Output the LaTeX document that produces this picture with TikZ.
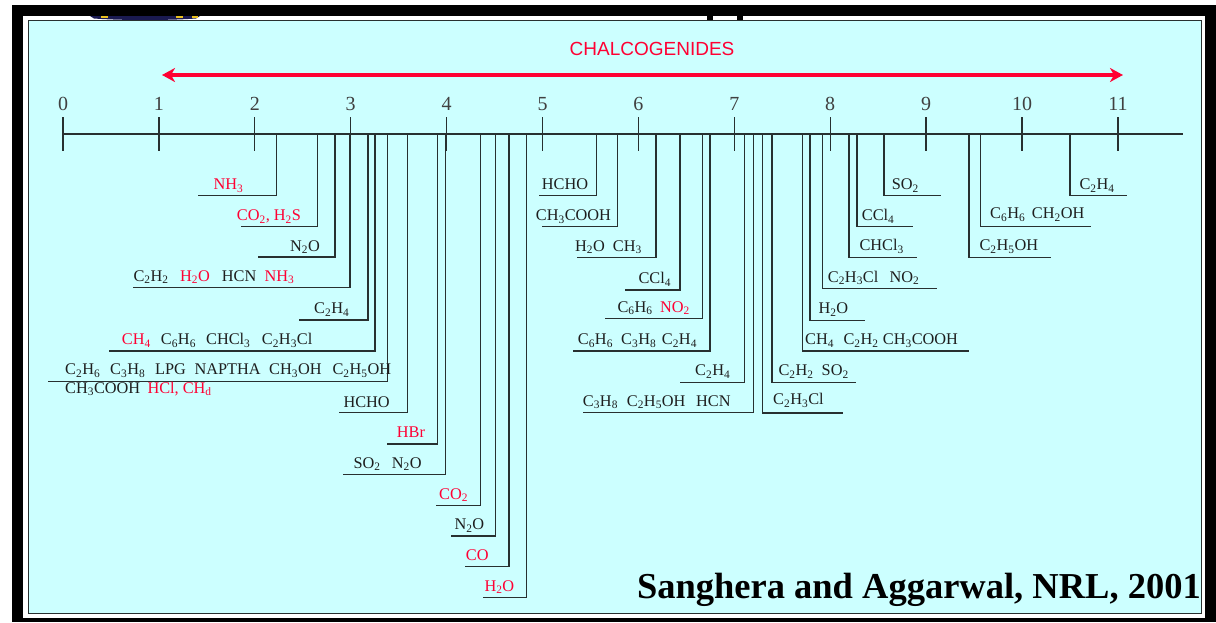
\documentclass[tikz,border=0pt]{standalone}
\usepackage{fontspec}
\setmainfont{Liberation Serif}
\newfontfamily\capsans{Liberation Sans}
\usetikzlibrary{arrows.meta}
\definecolor{panel}{HTML}{CCFFFF}
\definecolor{hot}{HTML}{FF0033}
\definecolor{ink}{HTML}{1E1E1E}
\definecolor{rule}{HTML}{283030}
\definecolor{navy}{HTML}{1A1A50}
\definecolor{gold}{HTML}{E8C020}
% chemical subscript
\newcommand\ix[1]{\textsubscript{#1}}
% bracket: name, x on the axis, bottom y, far end x of the foot
\newcommand\gasbar[4]{%
  \coordinate (#1t) at (#2,134);
  \coordinate (#1e) at (#4,#3);
  \draw[bar] (#1t) |- (#1e);}
% label: name, x, baseline y, colour, text
\newcommand\gaslbl[5]{\node[lbl,text=#4] (#1) at (#2,#3) {#5};}
\begin{document}
\begin{tikzpicture}[x=1pt,y=-1pt,
  bar/.style={draw=rule,line width=1.3pt},
  axtick/.style={draw=rule,line width=1.3pt},
  lbl/.style={font=\fontsize{16.3}{18}\selectfont,inner sep=0pt,anchor=base west},
  num/.style={font=\fontsize{20}{22}\selectfont,text=ink!85,inner sep=0pt,anchor=base}]
\useasboundingbox (0,0) rectangle (1216,622);
% frame
\fill[white] (0,0) rectangle (1216,622);
\fill[black] (12,5) rectangle (1216,622);
\fill[white] (23.3,16) rectangle (1205,617.5);
% slivers of the header artwork
\fill[navy] (90,16) -- (200,16) -- (196,18.5) .. controls (170,20.5) and (120,20.5) .. (94,18.5) -- cycle;
\fill[gold] (101,16) rectangle (108,18);
\fill[gold] (176,16) rectangle (183,17.5);
\fill[gold] (192,16) rectangle (198,17.5);
\fill[black] (707,16) rectangle (713,20);
\fill[black] (737,16) rectangle (743,20);
% panel
\draw[fill=panel,draw=rule,line width=1pt] (28.5,20.5) rectangle (1201.5,613.5);

% range arrow
\coordinate (chL) at (162,75);
\coordinate (chR) at (1123,75);
\draw[hot,line width=4pt,{Stealth[length=13pt,width=14pt,inset=4pt]}-{Stealth[length=13pt,width=14pt,inset=4pt]}] (chL) -- (chR);
\node[font=\capsans\fontsize{19}{21}\selectfont,text=hot,anchor=base,inner sep=0pt] (chal) at (652,55.7) {CHALCOGENIDES};

% axis with ticks and numbers
\coordinate (ax0) at (63,134);
\coordinate (ax1) at (1183,134);
\draw[bar] (ax0) -- (ax1);
\foreach \v in {0,...,11}{
  \coordinate (tk\v a) at ({63+95.9*\v},117.3);
  \coordinate (tk\v b) at ({63+95.9*\v},150.7);
  \draw[axtick] (tk\v a) -- (tk\v b);
  \node[num] (n\v) at ({63+95.9*\v},110.5) {\v};
}

% brackets with feet to the left
\gasbar{a1}{276.5}{195.5}{197.7}
\gaslbl{a1l}{213.3}{189.5}{hot}{NH\ix3}
\gasbar{a2}{317.5}{226.7}{240.7}
\gaslbl{a2l}{236.7}{220.7}{hot}{CO\ix2, H\ix2S}
\gasbar{a3}{335}{257}{258.3}
\gaslbl{a3l}{290}{251}{ink}{N\ix2O}
\gasbar{a4}{350}{287.7}{133.3}
\gaslbl{a4l}{133.3}{281.2}{ink}{C\ix2H\ix2}
\gaslbl{a4m}{180}{281.2}{hot}{H\ix2O}
\gaslbl{a4n}{221.7}{281.2}{ink}{HCN}
\gaslbl{a4o}{264.3}{281.2}{hot}{NH\ix3}
\gasbar{a5}{368}{320}{299.3}
\gaslbl{a5l}{314}{313.5}{ink}{C\ix2H\ix4}
\gasbar{a6}{375}{351}{109.3}
\gaslbl{a6l}{121.7}{344.5}{hot}{CH\ix4}
\gaslbl{a6m}{160.7}{344.5}{ink}{C\ix6H\ix6}
\gaslbl{a6n}{206}{344.5}{ink}{CHCl\ix3}
\gaslbl{a6o}{261.7}{344.5}{ink}{C\ix2H\ix3Cl}
\gasbar{a7}{387.5}{381.7}{48.3}
\gaslbl{a7l}{65}{374.7}{ink}{C\ix2H\ix6}
\gaslbl{a7m}{110}{374.7}{ink}{C\ix3H\ix8}
\gaslbl{a7n}{155}{374.7}{ink}{LPG}
\gaslbl{a7o}{194.3}{374.7}{ink}{NAPTHA}
\gaslbl{a7p}{269}{374.7}{ink}{CH\ix3OH}
\gaslbl{a7q}{332.3}{374.7}{ink}{C\ix2H\ix5OH}
\gaslbl{a7r}{65}{393}{ink}{CH\ix3COOH}
\gaslbl{a7s}{147.3}{393}{hot}{HCl, CH\ix{d}}
\gasbar{a8}{407.5}{412.7}{339.3}
\gaslbl{a8l}{343.3}{407}{ink}{HCHO}
\gasbar{a9}{437.5}{444}{386.7}
\gaslbl{a9l}{396.7}{437.5}{hot}{HBr}
\gasbar{a10}{445.5}{474.7}{342.7}
\gaslbl{a10l}{353.3}{468.2}{ink}{SO\ix2}
\gaslbl{a10m}{391.7}{468.2}{ink}{N\ix2O}
\gasbar{a11}{480.7}{505.7}{436}
\gaslbl{a11l}{439}{499.2}{hot}{CO\ix2}
\gasbar{a12}{495.7}{536}{451}
\gaslbl{a12l}{454.3}{529.5}{ink}{N\ix2O}
\gasbar{a13}{509}{566.7}{465}
\gaslbl{a13l}{465.7}{560.2}{hot}{CO}
\gasbar{a14}{526.7}{597.7}{482.7}
\gaslbl{a14l}{484.3}{591.2}{hot}{H\ix2O}
\gasbar{b1}{596.7}{195.7}{539}
\gaslbl{b1l}{541.7}{189.5}{ink}{HCHO}
\gasbar{b2}{617.3}{226.7}{541.7}
\gaslbl{b2l}{535.7}{220.5}{ink}{CH\ix3COOH}
\gasbar{b3}{656}{257.3}{576.7}
\gaslbl{b3l}{575}{251}{ink}{H\ix2O}
\gaslbl{b3m}{612.7}{251}{ink}{CH\ix3}
\gasbar{b4}{680}{290}{625}
\gaslbl{b4l}{638.3}{283.5}{ink}{CCl\ix4}
\gasbar{b5}{702.5}{318.3}{605}
\gaslbl{b5l}{617.3}{312}{ink}{C\ix6H\ix6}
\gaslbl{b5m}{660}{312}{hot}{NO\ix2}
\gasbar{b6}{710}{351}{573.3}
\gaslbl{b6l}{577.7}{344.5}{ink}{C\ix6H\ix6}
\gaslbl{b6m}{621}{344.5}{ink}{C\ix3H\ix8}
\gaslbl{b6n}{661.7}{344.5}{ink}{C\ix2H\ix4}
\gasbar{b7}{744.3}{382.3}{680}
\gaslbl{b7l}{695}{375.5}{ink}{C\ix2H\ix4}
\gasbar{b8}{753.3}{412.7}{583.3}
\gaslbl{b8l}{582.7}{406}{ink}{C\ix3H\ix8}
\gaslbl{b8m}{626.7}{406}{ink}{C\ix2H\ix5OH}
\gaslbl{b8n}{696}{406}{ink}{HCN}

% brackets with feet to the right
\gasbar{c1}{762.5}{413}{843}
\gaslbl{c1l}{773}{404.5}{ink}{C\ix2H\ix3Cl}
\gasbar{c2}{772}{382.3}{855.5}
\gaslbl{c2l}{778.3}{375.5}{ink}{C\ix2H\ix2}
\gaslbl{c2m}{821.5}{375.5}{ink}{SO\ix2}
\gasbar{c3}{802.5}{351}{969.3}
\gaslbl{c3l}{805}{344.5}{ink}{CH\ix4}
\gaslbl{c3m}{843.3}{344.5}{ink}{C\ix2H\ix2}
\gaslbl{c3n}{882.7}{344.5}{ink}{CH\ix3COOH}
\gasbar{c4}{810}{320.7}{865}
\gaslbl{c4l}{818.3}{313.5}{ink}{H\ix2O}
\gasbar{c5}{822.3}{288.3}{936.7}
\gaslbl{c5l}{827.7}{282}{ink}{C\ix2H\ix3Cl}
\gaslbl{c5m}{889.3}{282}{ink}{NO\ix2}
\gasbar{c6}{849}{257.3}{917.3}
\gaslbl{c6l}{859.3}{250.5}{ink}{CHCl\ix3}
\gasbar{c7}{857}{226.7}{912.7}
\gaslbl{c7l}{861.7}{220.5}{ink}{CCl\ix4}
\gasbar{c8}{884}{195.7}{940.7}
\gaslbl{c8l}{891.7}{189.5}{ink}{SO\ix2}
\gasbar{c9}{969}{257.3}{1051}
\gaslbl{c9l}{979.3}{250.5}{ink}{C\ix2H\ix5OH}
\gasbar{c10}{980.7}{226.7}{1091}
\gaslbl{c10l}{990}{218.5}{ink}{C\ix6H\ix6}
\gaslbl{c10m}{1031.7}{218.5}{ink}{CH\ix2OH}
\gasbar{c11}{1070}{195.7}{1126.7}
\gaslbl{c11l}{1079.3}{189.5}{ink}{C\ix2H\ix4}

% source line
\node[font=\bfseries\fontsize{36.5}{38}\selectfont,text=black,anchor=base east,inner sep=0pt] (src) at (1201,598) {Sanghera and Aggarwal, NRL, 2001};
\end{tikzpicture}
\end{document}
